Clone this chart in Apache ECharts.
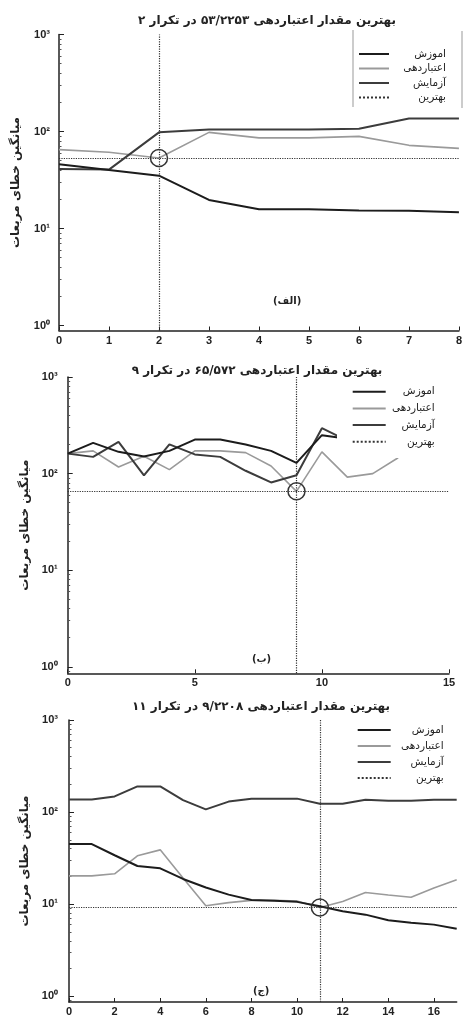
<!DOCTYPE html>
<html><head><meta charset="utf-8">
<script src="https://cdn.jsdelivr.net/npm/echarts@6/dist/echarts.min.js"></script>
<style>html,body{margin:0;padding:0;background:#fff}#c{width:465px;height:1017px}</style>
</head><body><div id="c"></div>
<script>
// ---- data ----
const legendNames = ['اموزش', 'اعتباردهی', 'آزمایش', 'بهترین'];
const yName = 'میانگین خطای مربعات';
const titles = [
  'بهترین مقدار اعتباردهی ۵۳/۲۲۵۳ در تکرار ۲',
  'بهترین مقدار اعتباردهی ۶۵/۵۷۲ در تکرار ۹',
  'بهترین مقدار اعتباردهی ۹/۲۲۰۸ در تکرار ۱۱'
];
const panelLabels = ['(الف)', '(ب)', '(ج)'];
const yTicks = [1, 10, 100, 1000];

// panel (a)
const p1Train = [46, 40, 35, 19.7, 15.8, 15.8, 15.3, 15.2, 14.7];
const p1Val   = [65, 61, 53.2253, 98, 86, 86, 89, 72, 67];
const p1Test  = [41, 40.5, 98, 105, 105, 105, 107, 136, 136];
const p1BestEpoch = 2, p1BestValue = 53.2253;
const p1XTicks = [0, 1, 2, 3, 4, 5, 6, 7, 8];

// panel (b)
const p2Train = [161, 208, 168, 150, 172, 225, 225, 200, 172, 129, 250, 230];
const p2Val   = [161, 172, 117, 151, 110, 172, 172, 165, 120, 65.572, 168, 92, 100, 146];
const p2Test  = [161, 149, 213, 96, 201, 158, 149, 107, 81, 96, 295, 220];
const p2BestEpoch = 9, p2BestValue = 65.572;
const p2XTicks = [0, 5, 10, 15];

// panel (c)
const p3Train = [45, 45, 34, 26, 24.5, 18.8, 15.2, 12.7, 11.1, 10.9, 10.6, 9.5, 8.4, 7.7, 6.7, 6.3, 6.0, 5.4];
const p3Val   = [20.3, 20.3, 21.4, 33.5, 38.9, 19.3, 9.6, 10.4, 11, 11, 10.8, 9.2208, 10.7, 13.4, 12.6, 11.9, 15, 18.4];
const p3Test  = [137, 137, 148, 190, 190, 135, 107, 130, 140, 140, 140, 123, 123, 136, 133, 133, 136, 136];
const p3BestEpoch = 11, p3BestValue = 9.2208;
const p3XTicks = [0, 2, 4, 6, 8, 10, 12, 14, 16];

// ---- styles ----
const AR = 'DejaVu Sans';
const NUM = 'Liberation Sans';
const C_TRAIN = '#1c1c1c', C_VAL = '#9a9a9a', C_TEST = '#3c3c3c', C_BEST = '#333';
const sup = {0: '⁰', 1: '¹', 2: '²', 3: '³'};

const panels = [
  {train: p1Train, val: p1Val, test: p1Test, be: p1BestEpoch, bv: p1BestValue, xt: p1XTicks, xmax: 8,
   grid: {left: 59, top: 34.5, width: 404, height: 296}, ymin: 0.888, nameGap: 37, labelMargin: 9, xMargin: 5,
   title: {x: 262, y: 10}, plabel: {x: 273, y: 296},
   legend: {left: 358, top: 48.5, gap: 3.5, itemW: 30, textW: 52, bg: 'transparent', pad: [0, 0, 0, 0]}},
  {train: p2Train, val: p2Val, test: p2Test, be: p2BestEpoch, bv: p2BestValue, xt: p2XTicks, xmax: 15,
   grid: {left: 67.7, top: 377, width: 381.3, height: 296.3}, ymin: 0.857, nameGap: 36, labelMargin: 10, xMargin: 4,
   title: {x: 252, y: 360}, plabel: {x: 252, y: 654},
   legend: {left: 337, top: 378, gap: 5.7, itemW: 33, textW: 44, bg: '#fff', pad: [8.2, 19, 10.8, 14.7]}},
  {train: p3Train, val: p3Val, test: p3Test, be: p3BestEpoch, bv: p3BestValue, xt: p3XTicks, xmax: 17,
   grid: {left: 69, top: 720, width: 387.7, height: 282.3}, ymin: 0.867, nameGap: 27, labelMargin: 11, xMargin: 4,
   title: {x: 256, y: 696}, plabel: {x: 253, y: 986},
   legend: {left: 356.7, top: 724.5, gap: 5, itemW: 33, textW: 48, bg: 'transparent', pad: [0, 0, 0, 0]}}
];

function minorTicks(min, max) {
  const out = [];
  for (let k = -1; k <= 3; k++) for (let m = 2; m <= 9; m++) {
    const v = m * Math.pow(10, k);
    if (v >= min && v <= max) out.push(v);
  }
  return out;
}
const toPairs = arr => arr.map((v, i) => [i, v]);

const option = {
  animation: false,
  backgroundColor: '#fff',
  title: [], grid: [], xAxis: [], yAxis: [], series: [], legend: [], graphic: []
};

panels.forEach((p, gi) => {
  option.grid.push(Object.assign({containLabel: false}, p.grid));
  option.title.push({
    text: titles[gi], left: p.title.x, top: p.title.y, textAlign: 'center',
    textStyle: {fontFamily: AR, fontWeight: 'bold', fontSize: 12, color: '#222'}
  });
  option.xAxis.push({
    type: 'value', gridIndex: gi, min: 0, max: p.xmax,
    axisLine: {show: true, lineStyle: {color: '#222', width: 1.5}},
    axisTick: {show: true, inside: true, length: 4, customValues: p.xt, lineStyle: {color: '#222', width: 1}},
    axisLabel: {customValues: p.xt, margin: p.xMargin, fontFamily: NUM, fontWeight: 'bold', fontSize: 11, color: '#222'},
    splitLine: {show: false}
  });
  option.yAxis.push({
    type: 'log', logBase: 10, gridIndex: gi, min: p.ymin, max: 1000,
    name: yName, nameLocation: 'middle', nameRotate: 90, nameGap: p.nameGap,
    nameTextStyle: {fontFamily: AR, fontWeight: 'bold', fontSize: 12, color: '#222'},
    axisLine: {show: true, lineStyle: {color: '#222', width: 1.5}},
    axisTick: {show: true, inside: true, length: 5, customValues: yTicks, lineStyle: {color: '#222', width: 1}},
    axisLabel: {customValues: yTicks, margin: p.labelMargin, fontFamily: NUM, fontWeight: 'bold', fontSize: 11, color: '#222',
      formatter: v => '10' + sup[Math.round(Math.log10(v))]},
    splitLine: {show: false}
  });
  option.yAxis.push({
    type: 'log', logBase: 10, gridIndex: gi, min: p.ymin, max: 1000, position: 'left',
    axisLine: {show: false},
    axisTick: {show: true, inside: true, length: 2.5, customValues: minorTicks(p.ymin, 1000), lineStyle: {color: '#555', width: 1}},
    axisLabel: {show: false}, splitLine: {show: false}
  });
  const yIdx = gi * 2;
  const base = {type: 'line', xAxisIndex: gi, yAxisIndex: yIdx, symbol: 'none', showSymbol: false, silent: true};
  option.series.push(Object.assign({}, base, {
    name: legendNames[0], data: toPairs(p.train), lineStyle: {color: C_TRAIN, width: 2}, itemStyle: {color: C_TRAIN}, z: 3
  }));
  option.series.push(Object.assign({}, base, {
    name: legendNames[1], data: toPairs(p.val), lineStyle: {color: C_VAL, width: 1.6}, itemStyle: {color: C_VAL}, z: 2,
    markPoint: {
      symbol: 'circle', symbolSize: 17, silent: true,
      itemStyle: {color: 'rgba(0,0,0,0)', borderColor: '#333', borderWidth: 1.5},
      label: {show: false},
      data: [{coord: [p.be, p.bv]}]
    }
  }));
  option.series.push(Object.assign({}, base, {
    name: legendNames[2], data: toPairs(p.test), lineStyle: {color: C_TEST, width: 2}, itemStyle: {color: C_TEST}, z: 2
  }));
  option.series.push(Object.assign({}, base, {
    name: legendNames[3], data: [], lineStyle: {color: C_BEST, width: 1.2, type: 'dotted'}, itemStyle: {color: C_BEST},
    markLine: {
      symbol: 'none', silent: true, label: {show: false},
      lineStyle: {color: C_BEST, width: 1.2, type: 'dotted'},
      data: [{xAxis: p.be}, {yAxis: p.bv}]
    }
  }));
  const L = p.legend;
  option.legend.push({
    data: legendNames, orient: 'vertical', left: L.left, top: L.top,
    itemWidth: L.itemW, itemHeight: 10, itemGap: L.gap, selectedMode: false,
    backgroundColor: L.bg, padding: L.pad, borderWidth: 0,
    itemStyle: {opacity: 0},
    formatter: n => '{t|' + n + '}',
    textStyle: {rich: {t: {width: L.textW, align: 'right', fontFamily: AR, fontSize: 10.5, color: '#222'}}}
  });
  option.graphic.push({
    type: 'text', left: p.plabel.x, top: p.plabel.y,
    style: {text: panelLabels[gi], font: 'bold 10px "DejaVu Sans"', fill: '#222', textAlign: 'center', textVerticalAlign: 'middle'},
    z: 10
  });
});
option.graphic.push({type: 'line', shape: {x1: 353, y1: 30, x2: 353, y2: 107}, style: {stroke: '#999', lineWidth: 1}});
option.graphic.push({type: 'line', shape: {x1: 462, y1: 31, x2: 462, y2: 108}, style: {stroke: '#999', lineWidth: 1}});

const chart = echarts.init(document.getElementById('c'), null, {renderer: 'canvas'});
chart.setOption(option);
</script>
</body></html>
